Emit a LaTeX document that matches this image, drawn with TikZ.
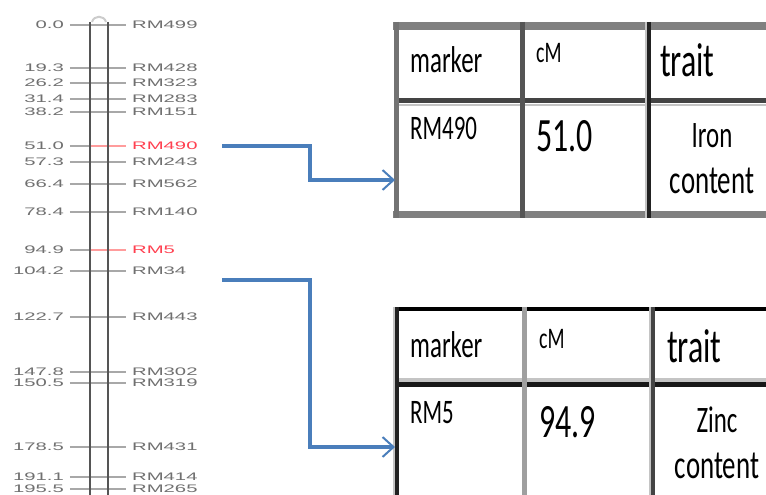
\documentclass[tikz,border=0pt]{standalone}
\usepackage{fontspec}
\usetikzlibrary{arrows.meta}
\newfontfamily\tabfont{Carlito}
\newfontfamily\mapfont{Liberation Sans}
\definecolor{conncol}{HTML}{4A7EBB}
\definecolor{labgray}{HTML}{707070}
\definecolor{tickgray}{HTML}{A8A8A8}
\definecolor{chromgray}{HTML}{555555}
\definecolor{redlab}{HTML}{FF4050}
\definecolor{redtick}{HTML}{FF9C9C}
\definecolor{bordA}{HTML}{808080}
\definecolor{bordB}{HTML}{444444}
\definecolor{bordC}{HTML}{222222}
\definecolor{bordL}{HTML}{C4C4C4}
\newcommand{\tallt}[1]{\scalebox{1}[1.5]{#1}}
\newcommand{\widet}[1]{\scalebox{1.85}[1]{#1}}
\tikzset{
  numlab/.style={anchor=east, inner sep=0pt, font=\mapfont\fontsize{11}{11}\selectfont},
  mklab/.style={anchor=west, inner sep=0pt, font=\mapfont\fontsize{11}{11}\selectfont},
  tickline/.style={line width=3pt},
  chrom/.style={draw=chromgray, line width=3pt},
  conn/.style={draw=conncol, line width=3.5pt, -{Straight Barb[length=11pt, width=20pt, line width=2pt]}},
  tabtext/.style={anchor=base west, inner sep=0pt, text=black},
  tabctr/.style={anchor=base, inner sep=0pt, text=black},
  fA/.style={font=\tabfont\fontsize{20}{20}\selectfont},
  fB/.style={font=\tabfont\fontsize{23}{23}\selectfont},
  fC/.style={font=\tabfont\fontsize{25}{25}\selectfont},
  fD/.style={font=\tabfont\fontsize{27}{27}\selectfont},
  fE/.style={font=\tabfont\fontsize{32}{32}\selectfont},
}
\begin{document}
\begin{tikzpicture}[x=1bp, y=-1bp]
\clip (0,0) rectangle (766,495);
\fill[white] (0,0) rectangle (766,495);

% ---------- linkage map ----------
\foreach \y/\n/\m/\tc/\lc [count=\i] in {
  25/0.0/RM499/tickgray/labgray,
  68/19.3/RM428/tickgray/labgray,
  83/26.2/RM323/tickgray/labgray,
  99/31.4/RM283/tickgray/labgray,
  112/38.2/RM151/tickgray/labgray,
  146/51.0/RM490/redtick/redlab,
  162/57.3/RM243/tickgray/labgray,
  184/66.4/RM562/tickgray/labgray,
  212/78.4/RM140/tickgray/labgray,
  250/94.9/RM5/redtick/redlab,
  271/104.2/RM34/tickgray/labgray,
  317/122.7/RM443/tickgray/labgray,
  372/147.8/RM302/tickgray/labgray,
  383/150.5/RM319/tickgray/labgray,
  447/178.5/RM431/tickgray/labgray,
  477/191.1/RM414/tickgray/labgray,
  489/195.5/RM265/tickgray/labgray}
{
  \node[numlab, text=labgray] (n\i) at (64,\y) {\widet{\n}};
  \node[mklab, text=\lc] (m\i) at (132,\y) {\widet{\m}};
  \coordinate (c\i) at (90,\y);
  \draw[tickline, draw=tickgray] ([xshift=6pt]n\i.east) -- (c\i);
  \draw[tickline, draw=\tc] (c\i) -- ([xshift=-6pt]m\i.west);
}
% chromosome body
\coordinate (cl) at (90,22);
\coordinate (cr) at (108,22);
\draw[draw=gray!40, line width=2pt] (92,22) .. controls (94,15) and (104,15) .. (106,22);
\draw[chrom] (cl) -- (90,500);
\draw[chrom] (cr) -- (108,500);

% ---------- table 1 ----------
\draw[draw=bordA, line width=8pt] (393,26) -- (790,26);
\draw[draw=bordA, line width=8pt] (393,214.5) -- (790,214.5);
\draw[draw=bordB, line width=5.5pt] (395,100.5) -- (790,100.5);
\draw[draw=bordL, line width=3pt] (395,105) -- (790,105);
\draw[draw=bordA!90!black, line width=4.5pt] (396.5,22) -- (396.5,218);
\draw[draw=chromgray, line width=4.5pt] (522.5,22) -- (522.5,218);
\draw[draw=bordL, line width=2pt] (646,22) -- (646,218);
\draw[draw=bordC, line width=4pt] (649,22) -- (649,218);

\node[tabtext, fC] (t1h1) at (410,73) {\tallt{marker}};
\node[tabtext, fA] (t1h2) at (536,63) {\tallt{cM}};
\node[tabtext, fE] (t1h3) at (660,77) {\tallt{trait}};
\node[tabtext, fB] (t1c1) at (410,140) {\tallt{RM490}};
\node[tabtext, fE] (t1c2) at (536,152) {\tallt{51.0}};
\node[tabctr, fC] (t1c3a) at (712,148) {\tallt{Iron}};
\node[tabctr, fD] (t1c3b) at (712,194) {\tallt{content}};

% ---------- table 2 ----------
\draw[draw=black, line width=4.5pt] (395,309) -- (790,309);
\draw[draw=bordL, line width=4pt] (395,380) -- (790,380);
\draw[draw=bordC!70!black, line width=5.5pt] (395,384.5) -- (790,384.5);
\draw[draw=bordL, line width=2pt] (394,307) -- (394,500);
\draw[draw=bordC, line width=4pt] (397,307) -- (397,500);
\draw[draw=gray!75, line width=5.5pt] (524.5,307) -- (524.5,500);
\draw[draw=bordL, line width=2pt] (650,307) -- (650,500);
\draw[draw=bordB, line width=4.5pt] (653,307) -- (653,500);

\node[tabtext, fC] (t2h1) at (410,357) {\tallt{marker}};
\node[tabtext, fA] (t2h2) at (539,348) {\tallt{cM}};
\node[tabtext, fE] (t2h3) at (667,362) {\tallt{trait}};
\node[tabtext, fB] (t2c1) at (410,423) {\tallt{RM5}};
\node[tabtext, fE] (t2c2) at (539,437) {\tallt{94.9}};
\node[tabctr, fC] (t2c3a) at (717,432) {\tallt{Zinc}};
\node[tabctr, fD] (t2c3b) at (717,478) {\tallt{content}};

% ---------- connectors ----------
\coordinate (s1) at (222,146);
\coordinate (t1in) at (395,180);
\coordinate (s2) at (222,280);
\coordinate (t2in) at (395,447);
\draw[conn] (s1) -- ++(88,0) |- (t1in);
\draw[conn] (s2) -- ++(88,0) |- (t2in);
\end{tikzpicture}
\end{document}
